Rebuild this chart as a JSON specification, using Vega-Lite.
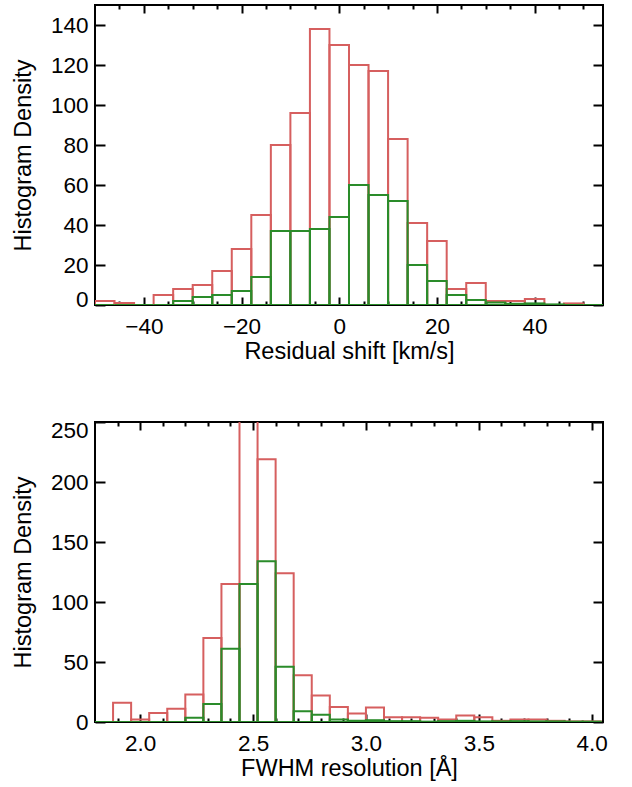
{
  "$schema": "https://vega.github.io/schema/vega-lite/v6.json",
  "padding": {"left": 10, "top": 3, "right": 27, "bottom": 3},
  "spacing": 54,
  "background": "white",
  "config": {
    "view": {"stroke": "black", "strokeWidth": 2},
    "font": "Liberation Sans",
    "axis": {
      "labelFont": "Liberation Sans",
      "titleFont": "Liberation Sans",
      "labelFontSize": 22.5,
      "titleFontSize": 23.5,
      "titleFontWeight": "normal",
      "labelColor": "black",
      "titleColor": "black",
      "tickColor": "black",
      "tickWidth": 2,
      "domain": false,
      "grid": false
    }
  },
  "datasets": {
    "shift": [
      {"lo": -50, "hi": -46, "all": 2, "sub": 0},
      {"lo": -46, "hi": -42, "all": 1, "sub": 0},
      {"lo": -42, "hi": -38, "all": 0, "sub": 0},
      {"lo": -38, "hi": -34, "all": 5, "sub": 0},
      {"lo": -34, "hi": -30, "all": 8, "sub": 2},
      {"lo": -30, "hi": -26, "all": 10, "sub": 4},
      {"lo": -26, "hi": -22, "all": 17, "sub": 5},
      {"lo": -22, "hi": -18, "all": 28, "sub": 7},
      {"lo": -18, "hi": -14, "all": 45, "sub": 14},
      {"lo": -14, "hi": -10, "all": 80, "sub": 37},
      {"lo": -10, "hi": -6, "all": 96, "sub": 37},
      {"lo": -6, "hi": -2, "all": 138, "sub": 38},
      {"lo": -2, "hi": 2, "all": 130, "sub": 44},
      {"lo": 2, "hi": 6, "all": 120, "sub": 60},
      {"lo": 6, "hi": 10, "all": 117, "sub": 55},
      {"lo": 10, "hi": 14, "all": 83, "sub": 52},
      {"lo": 14, "hi": 18, "all": 41, "sub": 20},
      {"lo": 18, "hi": 22, "all": 32, "sub": 12},
      {"lo": 22, "hi": 26, "all": 8, "sub": 5},
      {"lo": 26, "hi": 30, "all": 11, "sub": 2.5},
      {"lo": 30, "hi": 34, "all": 2, "sub": 1.3},
      {"lo": 34, "hi": 38, "all": 2, "sub": 0.6},
      {"lo": 38, "hi": 42, "all": 3, "sub": 0.8},
      {"lo": 42, "hi": 46, "all": 0, "sub": 0.3},
      {"lo": 46, "hi": 50, "all": 0.8, "sub": 0},
      {"lo": 50, "hi": 54, "all": 0, "sub": 0}
    ],
    "fwhm": [
      {"lo": 1.80, "hi": 1.88, "all": 0, "sub": 0},
      {"lo": 1.88, "hi": 1.96, "all": 16, "sub": 0},
      {"lo": 1.96, "hi": 2.04, "all": 2, "sub": 0},
      {"lo": 2.04, "hi": 2.12, "all": 7.5, "sub": 0},
      {"lo": 2.12, "hi": 2.20, "all": 11, "sub": 0},
      {"lo": 2.20, "hi": 2.28, "all": 23, "sub": 3.6},
      {"lo": 2.28, "hi": 2.36, "all": 70, "sub": 15},
      {"lo": 2.36, "hi": 2.44, "all": 115, "sub": 61},
      {"lo": 2.44, "hi": 2.52, "all": 300, "sub": 115},
      {"lo": 2.52, "hi": 2.60, "all": 219, "sub": 134},
      {"lo": 2.60, "hi": 2.68, "all": 124, "sub": 46},
      {"lo": 2.68, "hi": 2.76, "all": 39, "sub": 9},
      {"lo": 2.76, "hi": 2.84, "all": 22, "sub": 6},
      {"lo": 2.84, "hi": 2.92, "all": 12.5, "sub": 2},
      {"lo": 2.92, "hi": 3.00, "all": 7, "sub": 1},
      {"lo": 3.00, "hi": 3.08, "all": 12, "sub": 1.5},
      {"lo": 3.08, "hi": 3.16, "all": 4, "sub": 0.7},
      {"lo": 3.16, "hi": 3.24, "all": 4, "sub": 0.7},
      {"lo": 3.24, "hi": 3.32, "all": 3.5, "sub": 0.3},
      {"lo": 3.32, "hi": 3.40, "all": 2, "sub": 0.7},
      {"lo": 3.40, "hi": 3.48, "all": 5.5, "sub": 1},
      {"lo": 3.48, "hi": 3.56, "all": 4, "sub": 0.5},
      {"lo": 3.56, "hi": 3.64, "all": 1, "sub": 0.5},
      {"lo": 3.64, "hi": 3.72, "all": 2, "sub": 0.7},
      {"lo": 3.72, "hi": 3.80, "all": 2, "sub": 0.5},
      {"lo": 3.80, "hi": 3.88, "all": 1, "sub": 0.5},
      {"lo": 3.88, "hi": 3.96, "all": 0.5, "sub": 0.3},
      {"lo": 3.96, "hi": 4.04, "all": 0.5, "sub": 0.3}
    ]
  },
  "vconcat": [
    {
      "width": 508,
      "height": 300,
      "data": {"name": "shift"},
      "resolve": {"axis": {"x": "independent", "y": "independent"}},
      "layer": [
        {
          "mark": {"type": "rect", "filled": false, "stroke": "#d65f5f", "strokeWidth": 2, "clip": true},
          "encoding": {
            "x": {"field": "lo", "type": "quantitative", "scale": {"domain": [-50, 54], "nice": false, "zero": false},
              "axis": {"orient": "bottom", "values": [-40, -20, 0, 20, 40], "tickSize": -8, "labelPadding": 18, "title": "Residual shift [km/s]", "titlePadding": 2}},
            "x2": {"field": "hi"},
            "y": {"field": "all", "type": "quantitative", "scale": {"domain": [0, 150], "nice": false},
              "axis": {"orient": "left", "values": [0, 20, 40, 60, 80, 100, 120, 140], "tickSize": -10, "labelPadding": 17, "title": "Histogram Density", "titlePadding": 15,
                "labelOffset": {"expr": "datum.value === 0 ? -6 : 0"}}},
            "y2": {"datum": 0}
          }
        },
        {
          "mark": {"type": "rect", "filled": false, "stroke": "#2a8c2a", "strokeWidth": 2, "clip": true},
          "encoding": {
            "x": {"field": "lo", "type": "quantitative", "scale": {"domain": [-50, 54], "nice": false, "zero": false},
              "axis": {"orient": "top", "values": [-40, -20, 0, 20, 40], "tickSize": -8, "labels": false, "title": null}},
            "x2": {"field": "hi"},
            "y": {"field": "sub", "type": "quantitative", "scale": {"domain": [0, 150], "nice": false},
              "axis": {"orient": "right", "values": [0, 20, 40, 60, 80, 100, 120, 140], "tickSize": -10, "labels": false, "title": null}},
            "y2": {"datum": 0}
          }
        },
        {
          "mark": {"type": "rect", "opacity": 0},
          "encoding": {
            "x": {"field": "lo", "type": "quantitative", "scale": {"domain": [-50, 54], "nice": false, "zero": false},
              "axis": {"orient": "bottom", "values": [-45, -35, -30, -25, -15, -10, -5, 5, 10, 15, 25, 30, 35, 45, 50], "tickSize": -4, "labels": false, "title": null}},
            "y": {"field": "sub", "type": "quantitative", "scale": {"domain": [0, 150], "nice": false}, "axis": null}
          }
        },
        {
          "mark": {"type": "rect", "opacity": 0},
          "encoding": {
            "x": {"field": "lo", "type": "quantitative", "scale": {"domain": [-50, 54], "nice": false, "zero": false},
              "axis": {"orient": "top", "values": [-45, -35, -30, -25, -15, -10, -5, 5, 10, 15, 25, 30, 35, 45, 50], "tickSize": -4, "labels": false, "title": null}},
            "y": {"field": "sub", "type": "quantitative", "scale": {"domain": [0, 150], "nice": false}, "axis": null}
          }
        }
      ]
    },
    {
      "width": 508,
      "height": 300,
      "data": {"name": "fwhm"},
      "resolve": {"axis": {"x": "independent", "y": "independent"}},
      "layer": [
        {
          "mark": {"type": "rect", "filled": false, "stroke": "#d65f5f", "strokeWidth": 2, "clip": true},
          "encoding": {
            "x": {"field": "lo", "type": "quantitative", "scale": {"domain": [1.8, 4.05], "nice": false, "zero": false},
              "axis": {"orient": "bottom", "values": [2.0, 2.5, 3.0, 3.5, 4.0], "format": ".1f", "tickSize": -8, "labelPadding": 18, "title": "FWHM resolution [Å]", "titlePadding": 2}},
            "x2": {"field": "hi"},
            "y": {"field": "all", "type": "quantitative", "scale": {"domain": [0, 250], "nice": false},
              "axis": {"orient": "left", "values": [0, 50, 100, 150, 200, 250], "tickSize": -10, "labelPadding": 17, "title": "Histogram Density", "titlePadding": 15,
                "labelOffset": {"expr": "datum.value === 250 ? 8 : 0"}}},
            "y2": {"datum": 0}
          }
        },
        {
          "mark": {"type": "rect", "filled": false, "stroke": "#2a8c2a", "strokeWidth": 2, "clip": true},
          "encoding": {
            "x": {"field": "lo", "type": "quantitative", "scale": {"domain": [1.8, 4.05], "nice": false, "zero": false},
              "axis": {"orient": "top", "values": [2.0, 2.5, 3.0, 3.5, 4.0], "tickSize": -8, "labels": false, "title": null}},
            "x2": {"field": "hi"},
            "y": {"field": "sub", "type": "quantitative", "scale": {"domain": [0, 250], "nice": false},
              "axis": {"orient": "right", "values": [0, 50, 100, 150, 200, 250], "tickSize": -10, "labels": false, "title": null}},
            "y2": {"datum": 0}
          }
        },
        {
          "mark": {"type": "rect", "opacity": 0},
          "encoding": {
            "x": {"field": "lo", "type": "quantitative", "scale": {"domain": [1.8, 4.05], "nice": false, "zero": false},
              "axis": {"orient": "bottom", "values": [1.9, 2.1, 2.2, 2.3, 2.4, 2.6, 2.7, 2.8, 2.9, 3.1, 3.2, 3.3, 3.4, 3.6, 3.7, 3.8, 3.9], "tickSize": -4, "labels": false, "title": null}},
            "y": {"field": "sub", "type": "quantitative", "scale": {"domain": [0, 250], "nice": false}, "axis": null}
          }
        },
        {
          "mark": {"type": "rect", "opacity": 0},
          "encoding": {
            "x": {"field": "lo", "type": "quantitative", "scale": {"domain": [1.8, 4.05], "nice": false, "zero": false},
              "axis": {"orient": "top", "values": [1.9, 2.1, 2.2, 2.3, 2.4, 2.6, 2.7, 2.8, 2.9, 3.1, 3.2, 3.3, 3.4, 3.6, 3.7, 3.8, 3.9], "tickSize": -4, "labels": false, "title": null}},
            "y": {"field": "sub", "type": "quantitative", "scale": {"domain": [0, 250], "nice": false}, "axis": null}
          }
        }
      ]
    }
  ]
}
